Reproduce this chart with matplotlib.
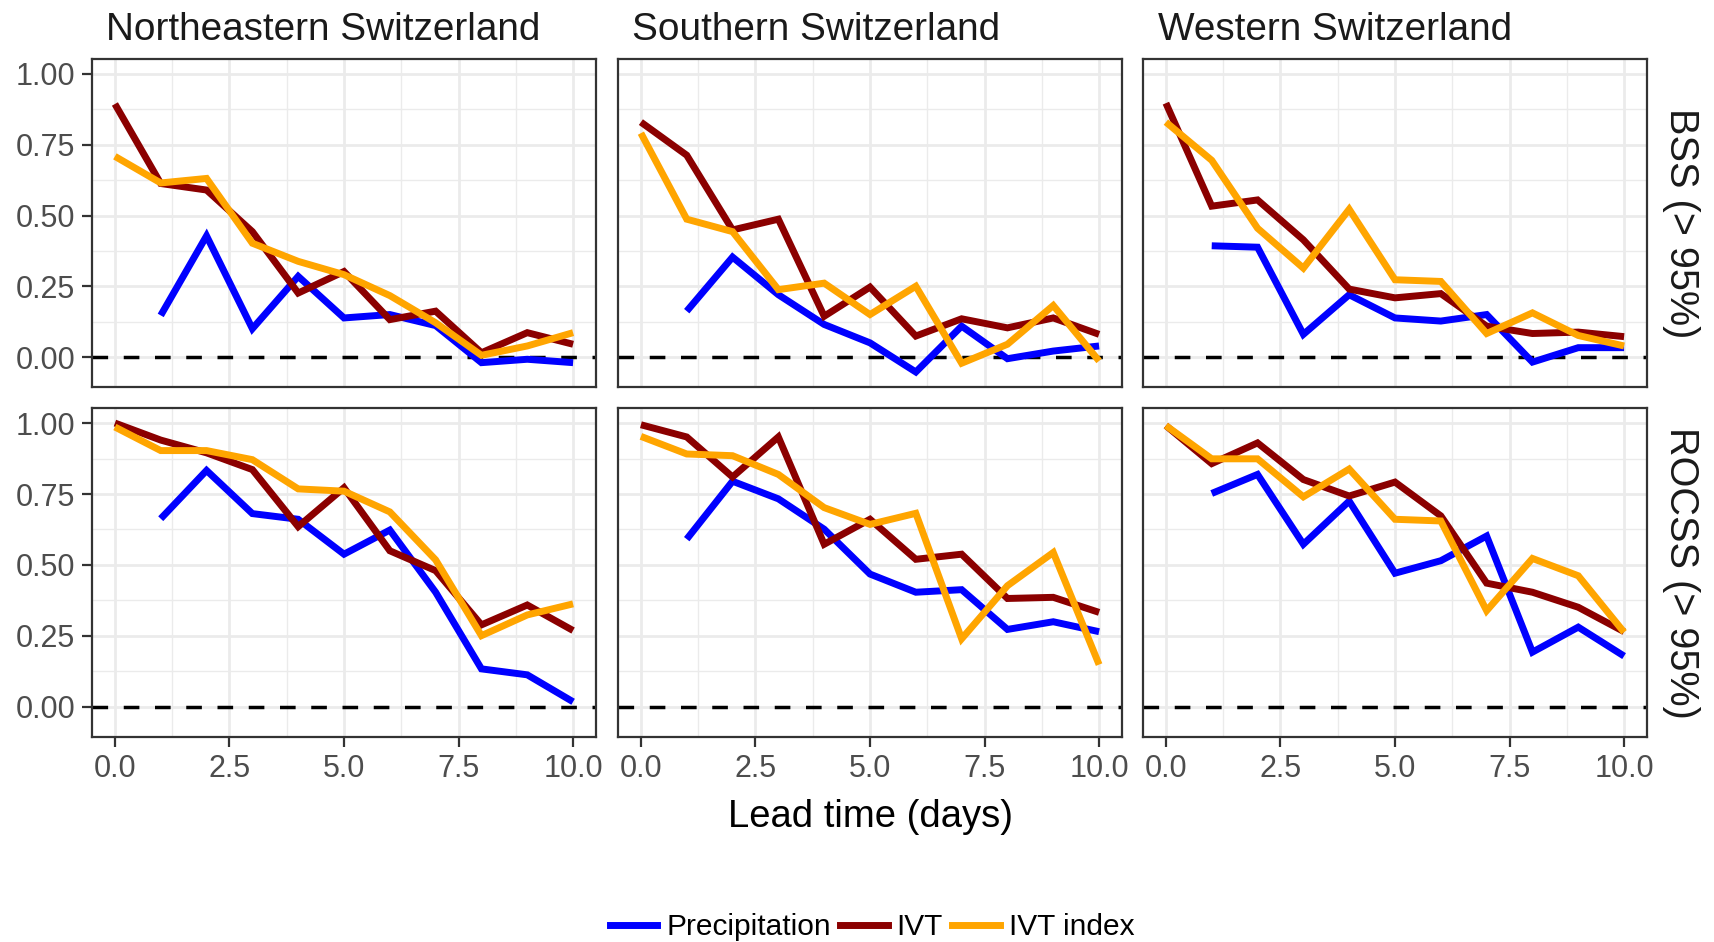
import numpy as np
import matplotlib
matplotlib.use("Agg")
import matplotlib.pyplot as plt
from matplotlib.lines import Line2D

plt.rcParams['font.family'] = ['Liberation Sans', 'DejaVu Sans']

# ---------------- data ----------------
lead = [0, 1, 2, 3, 4, 5, 6, 7, 8, 9, 10]
regions = ["Northeastern Switzerland", "Southern Switzerland", "Western Switzerland"]
scores = ["BSS (> 95%)", "ROCSS (> 95%)"]
series_names = ["Precipitation", "IVT", "IVT index"]
series_colors = ["#0000FF", "#8B0000", "#FFA500"]
nan = np.nan

# BSS
bss_ne_precip = [nan, 0.147, 0.428, 0.100, 0.285, 0.138, 0.150, 0.111, -0.020, -0.008, -0.020]
bss_ne_ivt    = [0.894, 0.613, 0.590, 0.443, 0.226, 0.302, 0.132, 0.162, 0.015, 0.086, 0.045]
bss_ne_index  = [0.709, 0.615, 0.631, 0.402, 0.338, 0.291, 0.217, 0.121, 0.006, 0.039, 0.086]

bss_s_precip = [nan, 0.162, 0.353, 0.220, 0.115, 0.050, -0.053, 0.109, -0.006, 0.021, 0.039]
bss_s_ivt    = [0.830, 0.713, 0.449, 0.487, 0.144, 0.247, 0.074, 0.135, 0.103, 0.138, 0.080]
bss_s_index  = [0.791, 0.487, 0.443, 0.238, 0.261, 0.150, 0.250, -0.022, 0.045, 0.182, -0.014]

bss_w_precip = [nan, 0.393, 0.388, 0.080, 0.220, 0.138, 0.127, 0.150, -0.018, 0.033, 0.033]
bss_w_ivt    = [0.897, 0.533, 0.555, 0.414, 0.240, 0.209, 0.224, 0.109, 0.083, 0.088, 0.072]
bss_w_index  = [0.830, 0.695, 0.455, 0.314, 0.522, 0.273, 0.267, 0.083, 0.156, 0.076, 0.039]

# ROCSS
roc_ne_precip = [nan, 0.663, 0.833, 0.681, 0.661, 0.538, 0.623, 0.404, 0.134, 0.113, 0.018]
roc_ne_ivt    = [1.000, 0.940, 0.895, 0.836, 0.635, 0.772, 0.550, 0.480, 0.289, 0.359, 0.269]
roc_ne_index  = [0.986, 0.903, 0.903, 0.871, 0.768, 0.760, 0.687, 0.518, 0.251, 0.324, 0.363]

roc_s_precip = [nan, 0.591, 0.795, 0.733, 0.626, 0.468, 0.404, 0.413, 0.273, 0.300, 0.265]
roc_s_ivt    = [0.994, 0.951, 0.810, 0.951, 0.573, 0.661, 0.520, 0.538, 0.382, 0.386, 0.333]
roc_s_index  = [0.953, 0.891, 0.885, 0.819, 0.702, 0.643, 0.682, 0.240, 0.427, 0.544, 0.149]

roc_w_precip = [nan, 0.752, 0.819, 0.573, 0.725, 0.471, 0.515, 0.602, 0.193, 0.281, 0.179]
roc_w_ivt    = [0.991, 0.857, 0.930, 0.801, 0.743, 0.792, 0.673, 0.436, 0.404, 0.351, 0.265]
roc_w_index  = [0.991, 0.874, 0.874, 0.740, 0.838, 0.661, 0.655, 0.339, 0.523, 0.462, 0.263]

x_ticks = [0.0, 2.5, 5.0, 7.5, 10.0]
x_ticklabels = ["0.0", "2.5", "5.0", "7.5", "10.0"]
y_ticks = [0.00, 0.25, 0.50, 0.75, 1.00]
y_ticklabels = ["0.00", "0.25", "0.50", "0.75", "1.00"]

panels = [
    [(bss_ne_precip, bss_ne_ivt, bss_ne_index),
     (bss_s_precip, bss_s_ivt, bss_s_index),
     (bss_w_precip, bss_w_ivt, bss_w_index)],
    [(roc_ne_precip, roc_ne_ivt, roc_ne_index),
     (roc_s_precip, roc_s_ivt, roc_s_index),
     (roc_w_precip, roc_w_ivt, roc_w_index)],
]

# ---------------- layout ----------------
W, H = 1714, 942
fig = plt.figure(figsize=(W / 100, H / 100), dpi=100)

col_lr = [(92, 596), (618, 1122), (1143, 1647)]
row_tb = [(59, 387), (408, 737)]

grid_col = "#EBEBEB"
border_col = "#333333"
tick_col = "#4D4D4D"

for r, (top, bot) in enumerate(row_tb):
    for c, (left, right) in enumerate(col_lr):
        ax = fig.add_axes([left / W, 1 - bot / H, (right - left) / W, (bot - top) / H])
        ax.set_xlim(-0.5, 10.5)
        ax.set_ylim(-0.106, 1.053)
        ax.set_xticks(x_ticks)
        ax.set_yticks(y_ticks)
        ax.set_xticks([1.25, 3.75, 6.25, 8.75], minor=True)
        ax.set_yticks([0.125, 0.375, 0.625, 0.875], minor=True)
        ax.grid(which='major', color=grid_col, linewidth=2.0, zorder=0)
        ax.grid(which='minor', color=grid_col, linewidth=1.0, zorder=0)
        ax.set_axisbelow(True)
        for sp in ax.spines.values():
            sp.set_color(border_col)
            sp.set_linewidth(1.6)
        ax.tick_params(which='minor', length=0)
        ax.tick_params(which='major', color=border_col, width=1.6, length=7,
                       labelsize=22, labelcolor=tick_col, pad=5)
        if c == 0:
            ax.set_yticklabels(y_ticklabels)
        else:
            ax.tick_params(axis='y', which='major', length=0, labelleft=False)
        if r == 1:
            ax.set_xticklabels(x_ticklabels)
        else:
            ax.tick_params(axis='x', which='major', length=0, labelbottom=False)

        ax.axhline(0, color='black', linewidth=2.5, linestyle=(0, (4.5, 4.5)), zorder=2)
        for vals, col in zip(panels[r][c], series_colors):
            ax.plot(lead, vals, color=col, linewidth=5.0, solid_joinstyle='miter',
                    solid_capstyle='butt', zorder=3)

    # strip label on right
    fig.text(1681 / W, 1 - (top + bot) / 2 / H, scores[r], rotation=270,
             ha='center', va='center', fontsize=28.5, color="#1A1A1A")

# region titles
title_x = [106, 632, 1158]
for tx, name in zip(title_x, regions):
    fig.text(tx / W, 1 - 40 / H, name, ha='left', va='baseline', fontsize=27.9, color="#1A1A1A")

# x label
fig.text(870 / W, 1 - 827 / H, "Lead time (days)", ha='center', va='baseline', fontsize=27.5, color='black')

# legend
handles = [Line2D([0], [0], color=c, linewidth=5.0) for c in series_colors]
fig.legend(handles, series_names, loc='center', bbox_to_anchor=(872 / W, 1 - 927 / H),
           ncol=3, frameon=False, fontsize=21.5, handlelength=1.6, handletextpad=0.3,
           columnspacing=0.3, borderpad=0, borderaxespad=0)

fig.savefig("out.png", dpi=100, facecolor='white')
